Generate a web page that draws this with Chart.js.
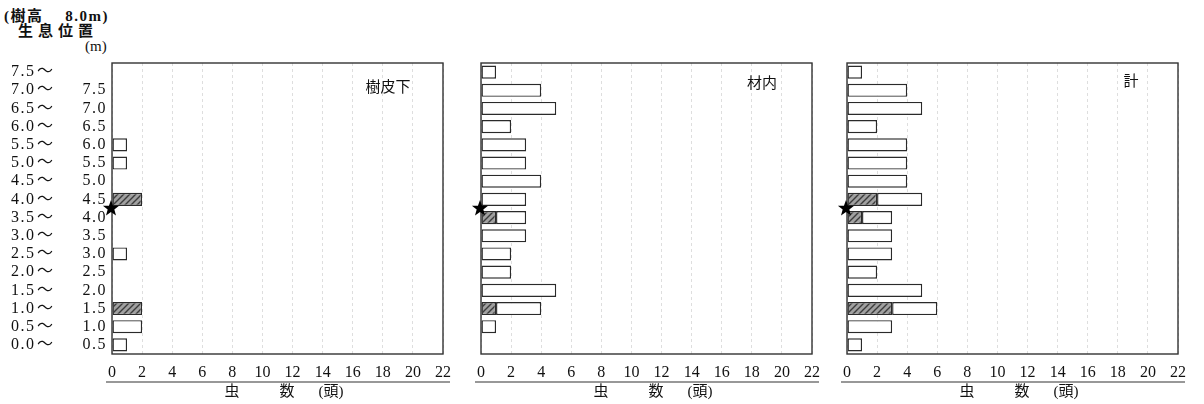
<!DOCTYPE html>
<html>
<head>
<meta charset="utf-8">
<script src="https://cdn.jsdelivr.net/npm/chart.js@4.4.1/dist/chart.umd.min.js"></script>
<style>
body{margin:0;background:#fff;width:1204px;height:404px;overflow:hidden;position:relative;font-family:"Liberation Serif","Noto Sans CJK JP",serif;color:#111}
canvas{position:absolute;top:0}
.hd{position:absolute;font-size:15px;white-space:pre;line-height:16px;font-weight:bold}
</style>
</head>
<body>
<div class="hd" style="left:4px;top:8px;letter-spacing:1.5px">(樹高　 8.0m)</div>
<div class="hd" style="left:18px;top:23px;letter-spacing:5px">生息位置</div>
<div class="hd" style="left:85px;top:38px;font-weight:normal">(m)</div>
<canvas id="c1" width="460" height="404" style="left:0px"></canvas>
<canvas id="c2" width="460" height="404" style="left:369px"></canvas>
<canvas id="c3" width="460" height="404" style="left:735px"></canvas>
<script>
// 生息位置 (m), top row first
const lowerM = ['7.5','7.0','6.5','6.0','5.5','5.0','4.5','4.0','3.5','3.0','2.5','2.0','1.5','1.0','0.5','0.0'];
const upperM = ['','7.5','7.0','6.5','6.0','5.5','5.0','4.5','4.0','3.5','3.0','2.5','2.0','1.5','1.0','0.5'];

// 樹皮下
const barkPlain   = [0,0,0,0,1,1,0,0,0,0,1,0,0,0,2,1];
const barkHatched = [0,0,0,0,0,0,0,2,0,0,0,0,0,2,0,0];
// 材内
const woodPlain   = [1,4,5,2,3,3,4,3,2,3,2,2,5,3,1,0];
const woodHatched = [0,0,0,0,0,0,0,0,1,0,0,0,0,1,0,0];
// 計
const totalPlain   = [1,4,5,2,4,4,4,3,2,3,3,2,5,3,3,1];
const totalHatched = [0,0,0,0,0,0,0,2,1,0,0,0,0,3,0,0];

const xTicks = [0,2,4,6,8,10,12,14,16,18,20,22];
const starRow = 7.5; // between 4.0~4.5 and 3.5~4.0

const serif = '"Liberation Serif","Noto Sans CJK JP",serif';

function hatch() {
    const c = document.createElement('canvas');
    c.width = c.height = 6;
    const g = c.getContext('2d');
    g.fillStyle = '#a0a0a0';
    g.fillRect(0, 0, 6, 6);
    g.strokeStyle = '#3c3c3c';
    g.lineWidth = 1.4;
    g.beginPath();
    g.moveTo(0, 6); g.lineTo(6, 0);
    g.moveTo(-3, 3); g.lineTo(3, -3);
    g.moveTo(3, 9); g.lineTo(9, 3);
    g.stroke();
    return g.createPattern(c, 'repeat');
}
const hatchFill = hatch();

const panelDeco = {
    id: 'panelDeco',
    afterDraw(chart, args, opts) {
        const ctx = chart.ctx;
        const a = chart.chartArea;
        const x = chart.scales.x, y = chart.scales.y;
        ctx.save();
        // frame
        ctx.strokeStyle = '#333';
        ctx.lineWidth = 1.4;
        ctx.strokeRect(a.left, a.top, a.right - a.left, a.bottom - a.top);
        // underline below tick numbers
        ctx.lineWidth = 1.2;
        ctx.beginPath();
        ctx.moveTo(x.getPixelForValue(0) - 6, 382);
        ctx.lineTo(x.getPixelForValue(22) + 7, 382);
        ctx.stroke();
        // axis title
        ctx.fillStyle = '#111';
        ctx.textAlign = 'center';
        ctx.textBaseline = 'middle';
        ctx.font = '15px ' + serif;
        ctx.fillText('虫', a.left + 120, 392);
        ctx.fillText('数', a.left + 175, 392);
        ctx.fillText('(頭)', a.left + 219, 392);
        // panel title
        ctx.font = '15px "Noto Sans CJK JP"';
        ctx.fillText(opts.title, a.left + opts.tx, opts.ty);
        // star
        const sx = a.left - 1, sy = y.getPixelForValue(starRow);
        ctx.beginPath();
        for (let i = 0; i < 10; i++) {
            const r = i % 2 ? 3.5 : 8.5;
            const ang = -Math.PI / 2 + i * Math.PI / 5;
            ctx.lineTo(sx + r * Math.cos(ang), sy + r * Math.sin(ang));
        }
        ctx.closePath();
        ctx.fillStyle = '#000';
        ctx.fill();
        // y labels
        if (opts.yLabels) {
            ctx.fillStyle = '#111';
            ctx.font = '16px ' + serif;
            ctx.letterSpacing = '1.5px';
            lowerM.forEach((lo, i) => {
                const py = y.getPixelForValue(i);
                ctx.textAlign = 'left';
                ctx.fillText(lo, 11, py);
                ctx.fillText('～', 37, py);
                ctx.textAlign = 'right';
                ctx.fillText(upperM[i], 107, py);
            });
        }
        ctx.restore();
    }
};

const nz = arr => arr.map(v => v === 0 ? null : v);

function makePanel(id, plain, hatched, title, tx, ty, yLabels) {
    return new Chart(document.getElementById(id), {
        type: 'bar',
        data: {
            labels: lowerM,
            datasets: [
                {
                    data: nz(hatched),
                    backgroundColor: hatchFill,
                    borderColor: '#2a2a2a',
                    borderWidth: 1.4,
                    borderSkipped: false,
                    stack: 's',
                },
                {
                    data: nz(plain),
                    backgroundColor: '#fff',
                    borderColor: '#2a2a2a',
                    borderWidth: 1.4,
                    borderSkipped: false,
                    stack: 's',
                },
            ],
        },
        options: {
            indexAxis: 'y',
            responsive: false,
            animation: false,
            barPercentage: 0.72,
            categoryPercentage: 1,
            layout: { padding: { top: 63, right: 10, left: 0, bottom: 0 } },
            plugins: {
                legend: { display: false },
                tooltip: { enabled: false },
                panelDeco: { title: title, tx: tx, ty: ty, yLabels: yLabels },
            },
            scales: {
                x: {
                    stacked: true,
                    min: 0,
                    max: 22,
                    afterBuildTicks: s => { s.ticks = xTicks.map(v => ({ value: v })); },
                    afterFit: s => { s.height = 50; },
                    grid: { color: '#dedede', drawTicks: false },
                    border: { display: false, dash: [3, 3] },
                    ticks: { color: '#111', padding: 9, font: { family: serif, size: 16 } },
                },
                y: {
                    stacked: true,
                    afterFit: s => { s.width = 112; },
                    grid: { display: false },
                    border: { display: false },
                    ticks: { display: false },
                },
            },
        },
        plugins: [panelDeco],
    });
}

makePanel('c1', barkPlain, barkHatched, '樹皮下', 276, 86, true);
makePanel('c2', woodPlain, woodHatched, '材内', 281, 82, false);
makePanel('c3', totalPlain, totalHatched, '計', 284, 80, false);
</script>
</body>
</html>
